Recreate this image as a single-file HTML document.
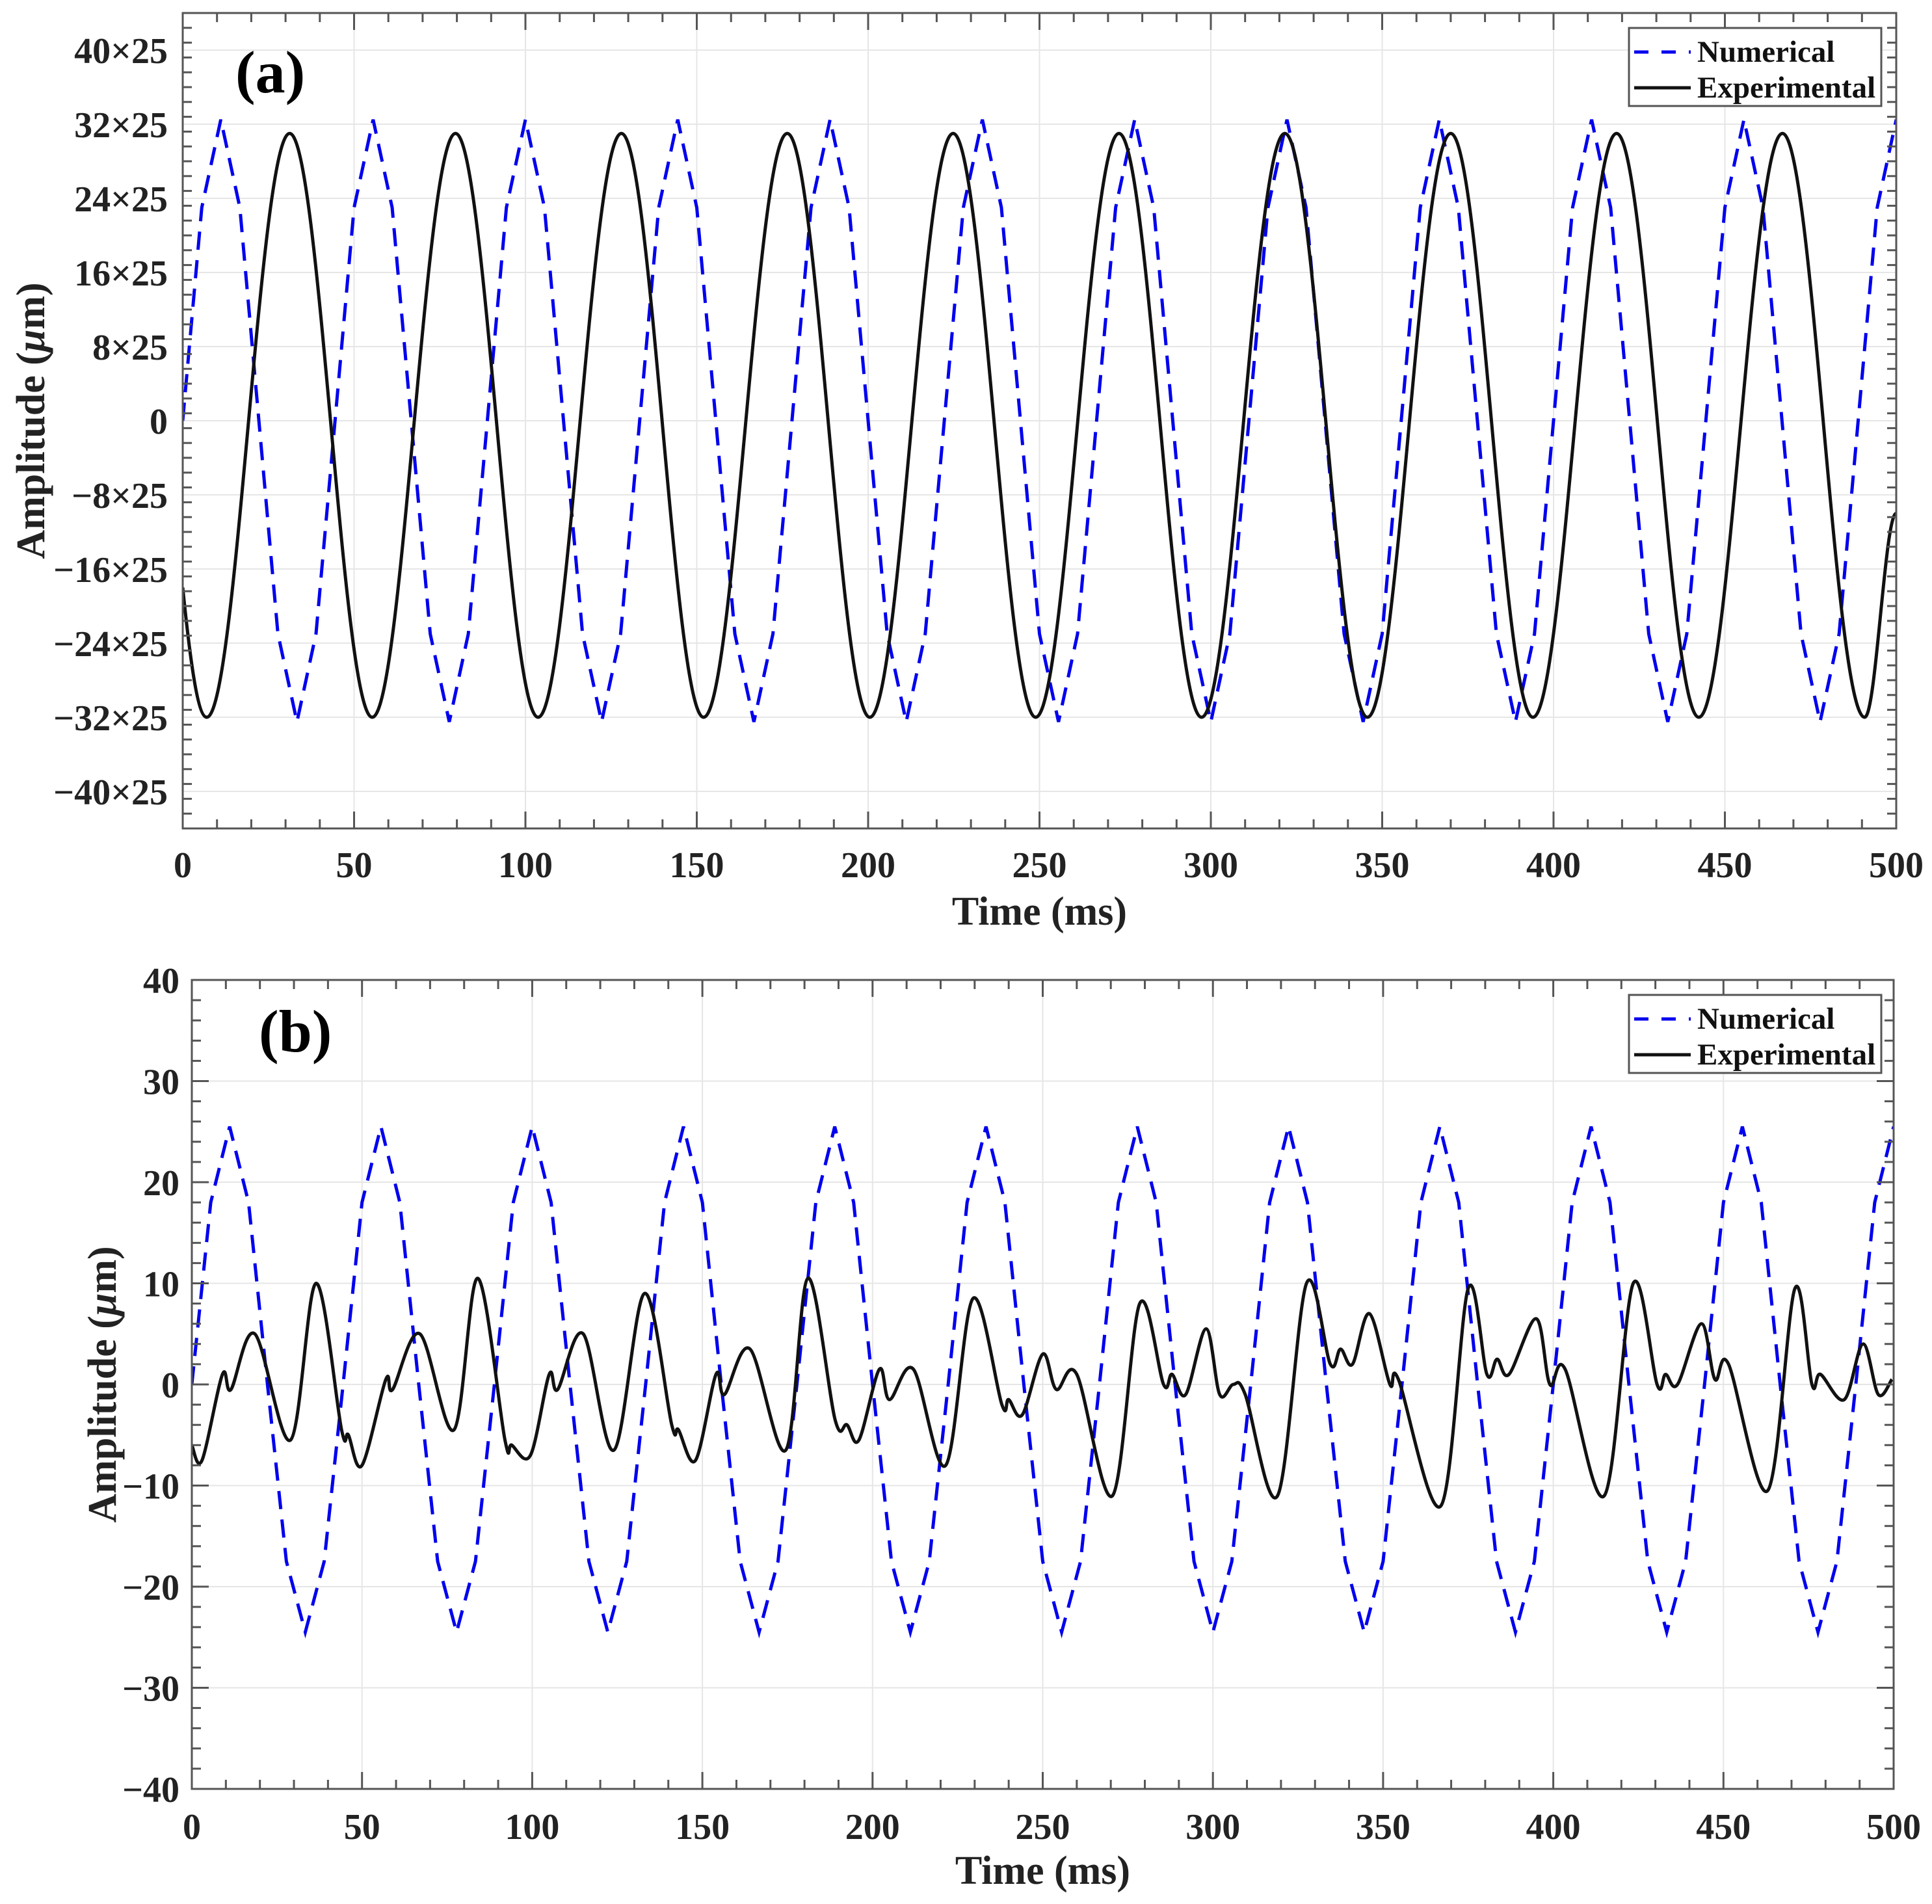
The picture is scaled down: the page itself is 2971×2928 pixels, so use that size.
<!DOCTYPE html>
<html><head><meta charset="utf-8"><style>
html,body{margin:0;padding:0;background:#fff}
svg{display:block}
text{font-family:"Liberation Serif",serif;font-weight:bold;fill:#222}
</style></head><body>
<svg id="fig" width="2971" height="2928" viewBox="0 0 2971 2928" xmlns="http://www.w3.org/2000/svg">
<g id="pa"></g>
<g id="pb"></g>
</svg>
<script>
// ---- data ----
const numATimes = [0,5.56,11.11,16.67,22.22,27.78,33.33,38.89];
const numAPattern = [0,23,32.5,23,0,-23,-32.5,-23];
const numBPattern = [0,18,25.5,18,0,-17.5,-24.5,-17.5];
const expAExtT = [0,7,31.2,55.3,79.6,103.7,128,152,176.4,200.5,224.8,248.9,273.2,297.3,321.6,345.7,370,394,418.4,442.4,466.8,490.8,500];
const expAExtV = [-18,-32,31,-32,31,-32,31,-32,31,-32,31,-32,31,-32,31,-32,31,-32,31,-32,31,-32,-10];
const expBT = [0,3,9,11.5,18.5,29,36.5,44,46,50,57,59,67,77,84,92,94,99.5,105,107.5,115,124,133,141,143,148,154,156.5,164,174.5,181,189,192.5,196,202,205,212,221.5,229.5,238,240,244,250,254,260,270.5,278.5,285.5,288,292,298,302,306,309.5,319,327.5,334.5,337.5,341,346,352,354.5,367,375,380.5,383.5,387,395,399,403.5,415,423.5,430.5,433,436.5,443.5,447.5,451.5,463,471,476,478.5,485.5,491,495.5,499.5];
const expBV = [-6,-7.5,1,-0.5,5,-5.5,10,-4.5,-5,-8,0.5,-0.5,5,-4.5,10.5,-5.5,-6,-7,1,-0.5,5,-6.5,9,-4,-4.5,-7.5,1,-1,3.5,-6.5,10.5,-3.5,-4,-5.5,1.5,-1.5,1.5,-8,8.5,-2,-1.5,-3,3,-0.5,1,-11,8,0,1,-1,5.5,-1,0,-1,-11,10,2,3.5,2,7,0,0.5,-12,9.5,1,2.5,1,6.5,0,1.5,-11,10,0,1,0,6,0.5,2,-10.5,9.5,0,1,-1.5,4,-1,0.5];
const ticksA = [-40,-32,-24,-16,-8,0,8,16,24,32,40];
const ticksB = [-40,-30,-20,-10,0,10,20,30,40];
const ticksX = [0,50,100,150,200,250,300,350,400,450,500];

const NS='http://www.w3.org/2000/svg';
function mk(tag,attrs,parent){const e=document.createElementNS(NS,tag);for(const k in attrs)e.setAttribute(k,attrs[k]);parent.appendChild(e);return e;}

function numSeries(pattern){const t=[],v=[];for(let i=0;i<=90;i++){t.push(i*500/90);v.push(pattern[i%8]);}return [t,v];}

function panel(g,cfg){
  const X=t=>cfg.x0+(t/500)*(cfg.x1-cfg.x0);
  const Y=v=>cfg.yz-v*cfg.k;
  const top=Y(cfg.lim), bot=Y(-cfg.lim);
  // grid
  ticksX.forEach(t=>{const l=mk('line',{x1:X(t),x2:X(t),y1:top,y2:bot,stroke:'#e6e6e6','stroke-width':2},g);
    });
  cfg.ticks.forEach(v=>{const l=mk('line',{x1:cfg.x0,x2:cfg.x1,y1:Y(v),y2:Y(v),stroke:'#e6e6e6','stroke-width':2},g);
    });
  // numerical
  const [nt,nv]=numSeries(cfg.pattern);
  const clipId='clip'+cfg.id;
  const cp=mk('clipPath',{id:clipId},g);mk('rect',{x:cfg.x0,y:top,width:cfg.x1-cfg.x0,height:bot-top},cp);
  const np=mk('polyline',{points:nt.map((t,i)=>X(t)+','+Y(nv[i])).join(' '),fill:'none',stroke:'#0000ee','stroke-width':5,'stroke-dasharray':'28 16','clip-path':'url(#'+clipId+')'},g);
  
  
  // experimental
  let d='';
  if(cfg.smoothExt){
    const T=expAExtT,V=expAExtV;
    d='M'+X(T[0])+','+Y(V[0]);
    for(let i=1;i<T.length;i++){const dx=X(T[i])-X(T[i-1]);
      const c1=(i===1)?X(T[0])+dx*0.33:X(T[i-1])+dx*0.36;
      const c2=X(T[i])-dx*0.36;
      const y1=(i===1)?Y(V[0]+(V[1]-V[0])*0.6):Y(V[i-1]);
      d+=' C'+c1+','+y1+' '+c2+','+Y(V[i])+' '+X(T[i])+','+Y(V[i]);}
  } else {
    const P=expBT.map((t,i)=>[X(t),Y(expBV[i])]);
    d='M'+P[0][0]+','+P[0][1];
    for(let i=0;i<P.length-1;i++){const p0=P[Math.max(0,i-1)],p1=P[i],p2=P[i+1],p3=P[Math.min(P.length-1,i+2)];
      d+=' C'+(p1[0]+(p2[0]-p0[0])/6)+','+(p1[1]+(p2[1]-p0[1])/6)+' '+(p2[0]-(p3[0]-p1[0])/6)+','+(p2[1]-(p3[1]-p1[1])/6)+' '+p2[0]+','+p2[1];}
  }
  const ep=mk('path',{d:d,fill:'none',stroke:'#111','stroke-width':5,'clip-path':'url(#'+clipId+')'},g);
  
  
  // axes box
  const box=mk('rect',{x:cfg.x0,y:top,width:cfg.x1-cfg.x0,height:bot-top,fill:'none',stroke:'#555','stroke-width':3},g);
  
  // x ticks
  for(let t=0;t<=500;t+=10){const maj=t%50===0,L=maj?26:14;
    mk('line',{x1:X(t),x2:X(t),y1:bot,y2:bot-L,stroke:'#555','stroke-width':3},g);
    mk('line',{x1:X(t),x2:X(t),y1:top,y2:top+L,stroke:'#555','stroke-width':3},g);}
  ticksX.forEach(t=>{const tx=mk('text',{x:X(t),y:cfg.xlabY,'font-size':56,'text-anchor':'middle'},g);tx.textContent=t;
    });
  // y ticks
  for(let v=-cfg.lim;v<=cfg.lim+1e-6;v+=cfg.minor){const vv=Math.round(v*10)/10;const maj=cfg.ticks.some(x=>Math.abs(x-vv)<1e-6),L=maj?26:14;
    mk('line',{x1:cfg.x0,x2:cfg.x0+L,y1:Y(vv),y2:Y(vv),stroke:'#555','stroke-width':3},g);
    mk('line',{x1:cfg.x1,x2:cfg.x1-L,y1:Y(vv),y2:Y(vv),stroke:'#555','stroke-width':3},g);}
  cfg.ticks.forEach(v=>{const tx=mk('text',{x:cfg.ylabX,y:Y(v)+20,'font-size':56,'text-anchor':'end'},g);
    tx.textContent=(v<0?'\u2212':'')+Math.abs(v)+(cfg.suffix&&v!==0?cfg.suffix:'');
    });
  // titles
  const xt=mk('text',{x:(cfg.x0+cfg.x1)/2,y:cfg.xtitleY,'font-size':62,'text-anchor':'middle'},g);xt.textContent='Time (ms)';
  
  const yt=mk('text',{x:0,y:0,'font-size':62,'text-anchor':'middle',transform:'translate('+cfg.ytitleX+','+cfg.yz+') rotate(-90)'},g);
  yt.innerHTML='Amplitude (<tspan font-style="italic">\u03bc</tspan>m)';
  
  const pl=mk('text',{x:cfg.lblX,y:cfg.lblY,'font-size':92},g);pl.textContent=cfg.lbl;pl.style.fill='#000';
  
  // legend
  const lg=mk('g',{},g);
  mk('rect',{x:2505,y:cfg.legY,width:388,height:120,fill:'#fff',stroke:'#555','stroke-width':3},lg);
  const r1=cfg.legY+37,r2=cfg.legY+92;
  mk('line',{x1:2513,x2:2600,y1:r1,y2:r1,stroke:'#0000ee','stroke-width':5,'stroke-dasharray':'22 20'},lg);
  mk('line',{x1:2513,x2:2600,y1:r2,y2:r2,stroke:'#111','stroke-width':5},lg);
  const e1=mk('text',{x:2610,y:r1+15,'font-size':47},lg);e1.textContent='Numerical';e1.style.fill='#111';
  
  const e2=mk('text',{x:2610,y:r2+15,'font-size':47},lg);e2.textContent='Experimental';e2.style.fill='#111';
  
}
panel(document.getElementById('pa'),{id:'a',x0:281,x1:2916,yz:647,k:14.25,lim:44,minor:1.6,ticks:ticksA,suffix:'\u00d725',
  pattern:numAPattern,smoothExt:true,ylabX:258,xlabY:1349,xtitleY:1422,ytitleX:68,lbl:'(a)',lblX:362,lblY:142,legY:43});
panel(document.getElementById('pb'),{id:'b',x0:295,x1:2912,yz:2129,k:15.55,lim:40,minor:2,ticks:ticksB,suffix:'',
  pattern:numBPattern,smoothExt:false,ylabX:276,xlabY:2828,xtitleY:2897,ytitleX:178,lbl:'(b)',lblX:398,lblY:1617,legY:1530});
</script>
</body></html>
